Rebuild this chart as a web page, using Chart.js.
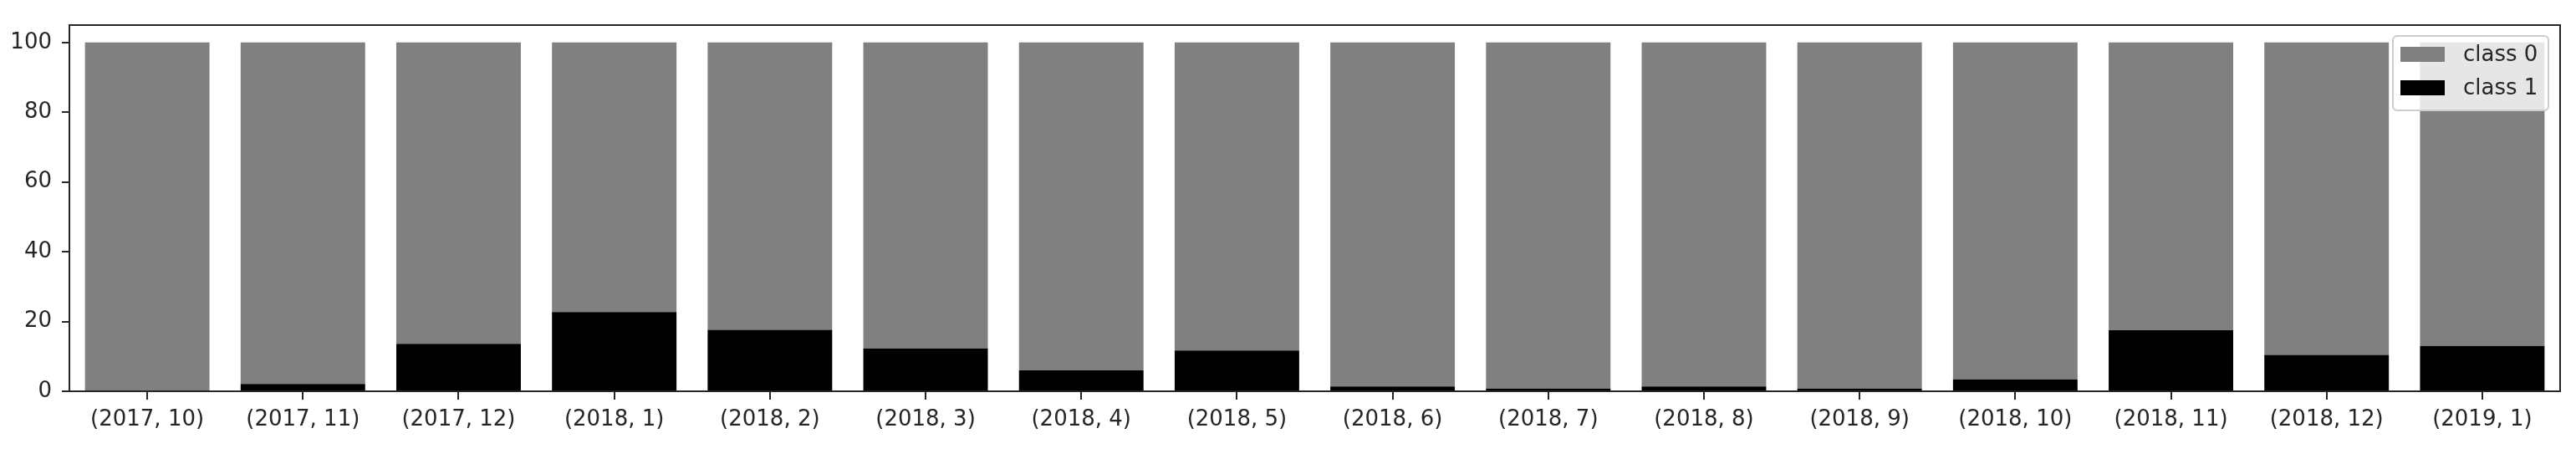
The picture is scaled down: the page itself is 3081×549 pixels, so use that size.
<!DOCTYPE html>
<html>
<head>
<meta charset="utf-8">
<script src="https://cdn.jsdelivr.net/npm/chart.js@4.4.1/dist/chart.umd.min.js"></script>
<style>
  body { margin: 0; background: #fff; }
  canvas { display: block; }
</style>
</head>
<body>
<canvas id="classChart" width="3081" height="549"></canvas>
<script>
const month_labels = ['(2017, 10)', '(2017, 11)', '(2017, 12)', '(2018, 1)', '(2018, 2)', '(2018, 3)', '(2018, 4)', '(2018, 5)',
  '(2018, 6)', '(2018, 7)', '(2018, 8)', '(2018, 9)', '(2018, 10)', '(2018, 11)', '(2018, 12)', '(2019, 1)'];
const class0_pct = [100, 97.9, 86.4, 77.3, 82.4, 87.7, 94.0, 88.3, 98.6, 99.2, 98.6, 99.2, 96.6, 82.5, 89.6, 87.0];
const class1_pct = [0, 2.1, 13.6, 22.7, 17.6, 12.3, 6.0, 11.7, 1.4, 0.8, 1.4, 0.8, 3.4, 17.5, 10.4, 13.0];
const y_ticks = [0, 20, 40, 60, 80, 100];

const textColor = '#262626';
const fontFamily = '"DejaVu Sans", sans-serif';

// frame round the plot area + matplotlib style legend box
const framePlugin = {
  id: 'frameLegend',
  afterDatasetsDraw(chart) {
    const ctx = chart.ctx;
    const a = chart.chartArea;
    ctx.save();
    ctx.strokeStyle = textColor;
    ctx.lineWidth = 2;
    ctx.strokeRect(a.left, a.top, a.right - a.left, a.bottom - a.top);

    // legend, top right
    const bw = 186, bh = 89;
    const bx = a.right - 14 - bw, by = a.top + 13;
    ctx.beginPath();
    ctx.roundRect(bx, by, bw, bh, 5);
    ctx.fillStyle = 'rgba(255,255,255,0.8)';
    ctx.fill();
    ctx.strokeStyle = '#cccccc';
    ctx.lineWidth = 2;
    ctx.stroke();

    const entries = [chart.data.datasets[1], chart.data.datasets[0]];
    ctx.font = '26px ' + fontFamily;
    ctx.textBaseline = 'middle';
    ctx.textAlign = 'left';
    entries.forEach((ds, i) => {
      const cy = by + 22 + i * 40;
      ctx.fillStyle = ds.backgroundColor;
      ctx.fillRect(bx + 9, cy - 9, 53, 18);
      ctx.fillStyle = textColor;
      ctx.fillText(ds.label, bx + 84, cy + 1);
    });
    ctx.restore();
  }
};

const ctx = document.getElementById('classChart').getContext('2d');
const myChart = new Chart(ctx, {
  type: 'bar',
  data: {
    labels: month_labels,
    datasets: [{
      label: 'class 1',
      data: class1_pct,
      backgroundColor: '#000000',
      barPercentage: 0.8,
      categoryPercentage: 1.0
    }, {
      label: 'class 0',
      data: class0_pct,
      backgroundColor: '#808080',
      barPercentage: 0.8,
      categoryPercentage: 1.0
    }]
  },
  options: {
    responsive: false,
    animation: false,
    layout: { padding: { left: 0, right: 19, top: 30, bottom: 0 } },
    plugins: {
      legend: { display: false },
      tooltip: { enabled: false }
    },
    scales: {
      x: {
        stacked: true,
        grid: { display: true, offset: false, drawOnChartArea: false, drawTicks: true, tickLength: 10, tickColor: textColor, lineWidth: 2 },
        border: { display: false },
        ticks: {
          color: textColor,
          font: { family: fontFamily, size: 26 },
          padding: 9,
          maxRotation: 0,
          autoSkip: false
        },
        afterFit: (axis) => { axis.height = 81; }
      },
      y: {
        stacked: true,
        min: 0,
        max: 105,
        grid: { display: true, drawOnChartArea: false, drawTicks: true, tickLength: 9, tickColor: textColor, lineWidth: 2 },
        border: { display: false },
        afterBuildTicks: (axis) => { axis.ticks = y_ticks.map(v => ({ value: v })); },
        ticks: {
          color: textColor,
          font: { family: fontFamily, size: 26 },
          padding: 12
        },
        afterFit: (axis) => { axis.width = 83; }
      }
    }
  },
  plugins: [framePlugin]
});
</script>
</body>
</html>
